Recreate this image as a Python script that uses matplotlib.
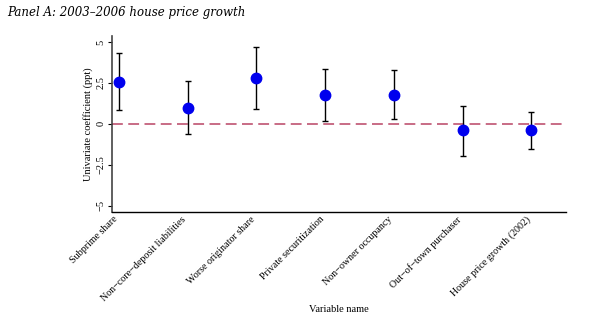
import matplotlib
matplotlib.use("Agg")
import matplotlib.pyplot as plt
import matplotlib.transforms as mtransforms
import numpy as np

# univariate coefficients with 95% confidence bounds (ppt)
variables = ["Subprime share", "Non\u2212core\u2212deposit liabilities", "Worse originator share",
             "Private securitization", "Non\u2212owner occupancy", "Out\u2212of\u2212town purchaser",
             "House price growth (2002)"]
coef = [2.58, 0.99, 2.79, 1.79, 1.79, -0.39, -0.39]
ci_low = [0.87, -0.63, 0.91, 0.20, 0.30, -1.93, -1.54]
ci_high = [4.33, 2.64, 4.68, 3.37, 3.27, 1.12, 0.75]

plt.rcParams['font.family'] = ['Liberation Serif', 'DejaVu Serif']

fig = plt.figure(figsize=(5.9, 3.27), dpi=100)
ax = fig.add_axes([0.19, 0.352, 0.769, 0.538])

x = np.arange(1, len(variables) + 1)
coef = np.array(coef)
yerr = [coef - np.array(ci_low), np.array(ci_high) - coef]

ax.axhline(0, color='#c4607c', linestyle=(0, (6, 3)), lw=1.3, zorder=1)
ax.errorbar(x, coef, yerr=yerr, fmt='none', ecolor='black', elinewidth=1.0,
            capsize=2.5, capthick=1.0, zorder=2)
ax.plot(x, coef, 'o', color='#0000ee', markersize=7.5, zorder=3)

ax.set_xlim(0.9, 7.5)
ax.set_ylim(-5.37, 5.37)
ax.set_yticks([-5, -2.5, 0, 2.5, 5])
ax.set_yticklabels(['\u22125', '\u22122.5', '0', '2.5', '5'], rotation=90, va='center', fontsize=7.5)
ax.set_xticks(x)
ax.set_xticklabels(variables, rotation=45, ha='right', rotation_mode='anchor', fontsize=7.2)
ax.tick_params(axis='y', length=3, width=0.8, pad=2)
ax.tick_params(axis='x', length=0, pad=2)

# shift the slanted labels a little to the left of their ticks
shift = mtransforms.ScaledTranslation(-6 / 100, 0, fig.dpi_scale_trans)
for lbl in ax.get_xticklabels():
    lbl.set_transform(lbl.get_transform() + shift)

for s in ['top', 'right']:
    ax.spines[s].set_visible(False)
ax.spines['left'].set_color('#444444')
ax.spines['left'].set_linewidth(1.2)
ax.spines['bottom'].set_linewidth(1.0)

ax.set_ylabel('Univariate coefficient (ppt)', fontsize=7.5, labelpad=2)
ax.set_xlabel('Variable name', fontsize=7.5, labelpad=2)

fig.text(0.012, 0.962, 'Panel A: 2003\u20132006 house price growth', fontstyle='italic',
         fontsize=8.5, ha='left', va='center', family=['DejaVu Serif'])

fig.savefig('out.png', dpi=100, facecolor='white')
